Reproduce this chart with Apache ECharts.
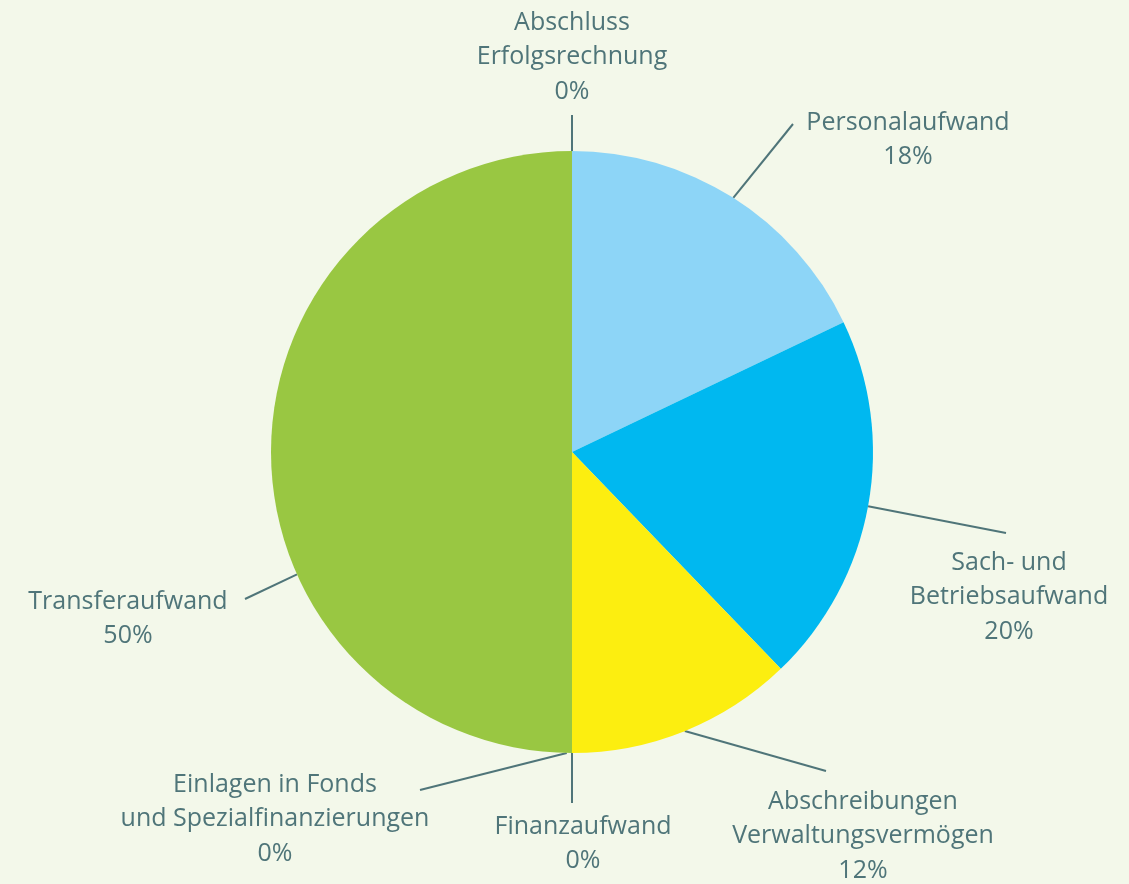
<!DOCTYPE html>
<html>
<head>
<meta charset="utf-8">
<script src="https://cdn.jsdelivr.net/npm/echarts@6/dist/echarts.min.js"></script>
<style>
html,body{margin:0;padding:0;background:#f3f8ea;}
#chart{width:1129px;height:884px;}
</style>
</head>
<body>
<div id="chart"></div>
<script>
// Data (clockwise from 12 o'clock)
const categories = [
  'Personalaufwand',
  'Sach- und\nBetriebsaufwand',
  'Abschreibungen\nVerwaltungsvermögen',
  'Finanzaufwand',
  'Einlagen in Fonds\nund Spezialfinanzierungen',
  'Transferaufwand',
  'Abschluss\nErfolgsrechnung'
];
const values = [17.9, 19.9, 12.2, 0, 0, 50.0, 0];
const colors = ['#8dd5f7', '#00b8f0', '#fcee10', '#99c742', '#99c742', '#99c742', '#99c742'];

// label placement (style only)
const CX = 572, CY = 452, R = 301;
const labelPos = [
  [908, 140], [1009, 597], [863, 836], [583, 844], [275, 819], [128, 619], [572, 57]
];
// leader line: start angle on pie rim (deg, clockwise from top) and end point
const lineStartAngle = [32.4, 100.4, 158, 180, 181, 246, 0];
const lineEnd = [[793, 124], [1006, 533], [826, 771], [572, 803], [420, 790], [245, 599], [572, 115]];

const chart = echarts.init(document.getElementById('chart'), null, {renderer: 'canvas'});
const textColor = '#4f7579';
chart.setOption({
  backgroundColor: '#f3f8ea',
  animation: false,
  series: [{
    type: 'pie',
    center: [CX, CY],
    radius: R,
    startAngle: 90,
    clockwise: true,
    avoidLabelOverlap: false,
    percentPrecision: 0,
    data: categories.map((c, i) => ({name: c, value: values[i], itemStyle: {color: colors[i]}})),
    label: {
      show: true,
      position: 'outside',
      formatter: '{b}\n{d}%',
      color: textColor,
      fontSize: 25,
      lineHeight: 34.5,
      fontFamily: 'Open Sans',
      align: 'center'
    },
    labelLine: {
      show: true,
      length: 20,
      length2: 0,
      smooth: false,
      lineStyle: {color: textColor, width: 2}
    },
    labelLayout: function (params) {
      const i = params.dataIndex;
      const p = labelPos[i];
      const a = lineStartAngle[i] * Math.PI / 180;
      const start = [CX + R * Math.sin(a), CY - R * Math.cos(a)];
      return {
        x: p[0], y: p[1], align: 'center', verticalAlign: 'middle',
        hideOverlap: false,
        labelLinePoints: [start, lineEnd[i], lineEnd[i]]
      };
    }
  }]
});
</script>
</body>
</html>
